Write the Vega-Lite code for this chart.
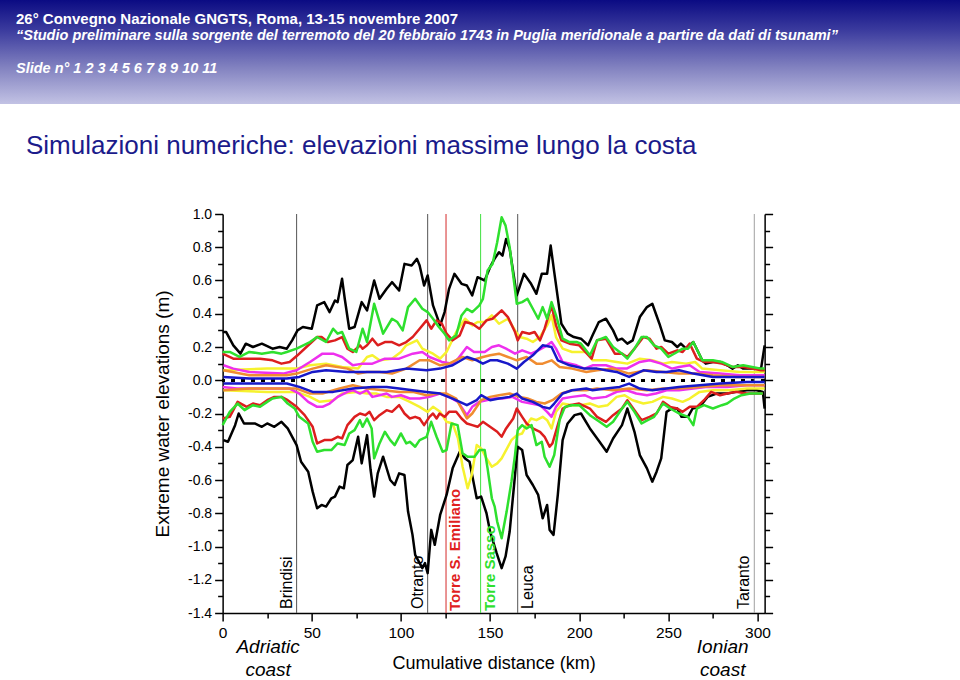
{
"$schema": "https://vega.github.io/schema/vega-lite/v6.json",
"padding": 0,
"background": "white",
"spacing": 103,
"center": true,
"title": {"text": "Simulazioni numeriche: elevazioni massime lungo la costa", "anchor": "start", "frame": "bounds", "offset": -159, "dx": 26, "fontSize": 26, "fontWeight": "normal", "color": "#1b1b8b", "font": "Liberation Sans", "zindex": 1},
"config": {
  "view": {"stroke": null},
  "font": "Liberation Sans",
  "axis": {"grid": false, "domainColor": "black", "tickColor": "black", "labelColor": "black", "titleColor": "black", "labelFont": "Liberation Sans", "titleFont": "Liberation Sans", "domainWidth": 1.5, "tickWidth": 1.5, "titleFontWeight": "normal"}
},
"datasets": {
"places": [
{"place": "Brindisi", "km": 41.5},
{"place": "Otranto", "km": 115},
{"place": "Torre S. Emiliano", "km": 125.3},
{"place": "Torre Sasso", "km": 144.7},
{"place": "Leuca", "km": 165.5},
{"place": "Taranto", "km": 298.2}
],
"coasts": [
{"coast": "Adriatic\ncoast", "km": 25.5},
{"coast": "Ionian\ncoast", "km": 280.5}
],
"lines": [
{"s":"A+","km":0,"m":0.29},{"s":"A+","km":2,"m":0.29},{"s":"A+","km":6,"m":0.21},{"s":"A+","km":10,"m":0.16},{"s":"A+","km":13,"m":0.22},{"s":"A+","km":17,"m":0.2},{"s":"A+","km":22,"m":0.22},{"s":"A+","km":28,"m":0.19},{"s":"A+","km":32,"m":0.2},{"s":"A+","km":36,"m":0.19},{"s":"A+","km":39,"m":0.24},{"s":"A+","km":42,"m":0.3},{"s":"A+","km":45,"m":0.32},{"s":"A+","km":50,"m":0.31},{"s":"A+","km":53,"m":0.45},{"s":"A+","km":57,"m":0.47},{"s":"A+","km":60,"m":0.41},{"s":"A+","km":63,"m":0.48},{"s":"A+","km":64.5,"m":0.47},{"s":"A+","km":67,"m":0.61},{"s":"A+","km":68.5,"m":0.49},{"s":"A+","km":71,"m":0.31},{"s":"A+","km":74,"m":0.32},{"s":"A+","km":78,"m":0.47},{"s":"A+","km":81,"m":0.42},{"s":"A+","km":85,"m":0.6},{"s":"A+","km":88,"m":0.49},{"s":"A+","km":92,"m":0.55},{"s":"A+","km":95,"m":0.59},{"s":"A+","km":99,"m":0.54},{"s":"A+","km":102,"m":0.7},{"s":"A+","km":106,"m":0.69},{"s":"A+","km":109,"m":0.73},{"s":"A+","km":110.5,"m":0.69},{"s":"A+","km":113,"m":0.57},{"s":"A+","km":115,"m":0.63},{"s":"A+","km":118,"m":0.45},{"s":"A+","km":122,"m":0.33},{"s":"A+","km":124.5,"m":0.41},{"s":"A+","km":127,"m":0.55},{"s":"A+","km":130,"m":0.64},{"s":"A+","km":134,"m":0.58},{"s":"A+","km":137,"m":0.57},{"s":"A+","km":140,"m":0.51},{"s":"A+","km":143,"m":0.62},{"s":"A+","km":147,"m":0.6},{"s":"A+","km":150,"m":0.68},{"s":"A+","km":152.5,"m":0.73},{"s":"A+","km":155,"m":0.77},{"s":"A+","km":157,"m":0.75},{"s":"A+","km":159,"m":0.85},{"s":"A+","km":161,"m":0.79},{"s":"A+","km":165,"m":0.51},{"s":"A+","km":169,"m":0.64},{"s":"A+","km":173,"m":0.58},{"s":"A+","km":176,"m":0.52},{"s":"A+","km":179,"m":0.64},{"s":"A+","km":182,"m":0.64},{"s":"A+","km":184,"m":0.81},{"s":"A+","km":186,"m":0.65},{"s":"A+","km":190,"m":0.34},{"s":"A+","km":193.5,"m":0.28},{"s":"A+","km":197,"m":0.26},{"s":"A+","km":201,"m":0.25},{"s":"A+","km":205,"m":0.21},{"s":"A+","km":207.5,"m":0.27},{"s":"A+","km":211,"m":0.35},{"s":"A+","km":215,"m":0.37},{"s":"A+","km":219,"m":0.3},{"s":"A+","km":221.5,"m":0.24},{"s":"A+","km":224,"m":0.25},{"s":"A+","km":227,"m":0.22},{"s":"A+","km":230,"m":0.24},{"s":"A+","km":234,"m":0.38},{"s":"A+","km":236,"m":0.41},{"s":"A+","km":238,"m":0.44},{"s":"A+","km":241,"m":0.46},{"s":"A+","km":245,"m":0.34},{"s":"A+","km":248,"m":0.24},{"s":"A+","km":252,"m":0.23},{"s":"A+","km":255,"m":0.2},{"s":"A+","km":257,"m":0.22},{"s":"A+","km":260,"m":0.19},{"s":"A+","km":264,"m":0.23},{"s":"A+","km":269,"m":0.12},{"s":"A+","km":271,"m":0.1},{"s":"A+","km":275,"m":0.11},{"s":"A+","km":279,"m":0.11},{"s":"A+","km":283,"m":0.09},{"s":"A+","km":286,"m":0.07},{"s":"A+","km":289,"m":0.09},{"s":"A+","km":292,"m":0.07},{"s":"A+","km":296,"m":0.07},{"s":"A+","km":300,"m":0.07},{"s":"A+","km":302,"m":0.07},{"s":"A+","km":304,"m":0.21},
{"s":"A-","km":0.5,"m":-0.36},{"s":"A-","km":3,"m":-0.37},{"s":"A-","km":7,"m":-0.27},{"s":"A-","km":9,"m":-0.2},{"s":"A-","km":12,"m":-0.26},{"s":"A-","km":18,"m":-0.26},{"s":"A-","km":22,"m":-0.28},{"s":"A-","km":25,"m":-0.26},{"s":"A-","km":29,"m":-0.28},{"s":"A-","km":33,"m":-0.25},{"s":"A-","km":36.5,"m":-0.29},{"s":"A-","km":41.5,"m":-0.39},{"s":"A-","km":44,"m":-0.49},{"s":"A-","km":48,"m":-0.55},{"s":"A-","km":50.5,"m":-0.67},{"s":"A-","km":53,"m":-0.77},{"s":"A-","km":55.5,"m":-0.75},{"s":"A-","km":58,"m":-0.76},{"s":"A-","km":61,"m":-0.71},{"s":"A-","km":63,"m":-0.7},{"s":"A-","km":65.6,"m":-0.64},{"s":"A-","km":68,"m":-0.65},{"s":"A-","km":70,"m":-0.51},{"s":"A-","km":73,"m":-0.48},{"s":"A-","km":76,"m":-0.34},{"s":"A-","km":78,"m":-0.5},{"s":"A-","km":81,"m":-0.33},{"s":"A-","km":83,"m":-0.54},{"s":"A-","km":85,"m":-0.7},{"s":"A-","km":87,"m":-0.56},{"s":"A-","km":90,"m":-0.46},{"s":"A-","km":94,"m":-0.6},{"s":"A-","km":96.5,"m":-0.63},{"s":"A-","km":99,"m":-0.56},{"s":"A-","km":102,"m":-0.57},{"s":"A-","km":104,"m":-0.79},{"s":"A-","km":106.5,"m":-0.93},{"s":"A-","km":108,"m":-1.05},{"s":"A-","km":110.5,"m":-1.1},{"s":"A-","km":112,"m":-1.13},{"s":"A-","km":113.5,"m":-1.1},{"s":"A-","km":115,"m":-1.16},{"s":"A-","km":117,"m":-0.9},{"s":"A-","km":119,"m":-0.99},{"s":"A-","km":122,"m":-0.81},{"s":"A-","km":125.6,"m":-0.69},{"s":"A-","km":129,"m":-0.53},{"s":"A-","km":133,"m":-0.43},{"s":"A-","km":136,"m":-0.47},{"s":"A-","km":138.5,"m":-0.49},{"s":"A-","km":142.5,"m":-0.71},{"s":"A-","km":145,"m":-0.7},{"s":"A-","km":148,"m":-0.8},{"s":"A-","km":150,"m":-0.91},{"s":"A-","km":153.7,"m":-1.04},{"s":"A-","km":156.5,"m":-1.13},{"s":"A-","km":158.7,"m":-1.06},{"s":"A-","km":161,"m":-0.91},{"s":"A-","km":164,"m":-0.57},{"s":"A-","km":165.5,"m":-0.4},{"s":"A-","km":168,"m":-0.42},{"s":"A-","km":170.5,"m":-0.57},{"s":"A-","km":174,"m":-0.63},{"s":"A-","km":177,"m":-0.69},{"s":"A-","km":179.5,"m":-0.83},{"s":"A-","km":182,"m":-0.75},{"s":"A-","km":183.4,"m":-0.9},{"s":"A-","km":185.6,"m":-0.93},{"s":"A-","km":188,"m":-0.69},{"s":"A-","km":190.7,"m":-0.36},{"s":"A-","km":193.5,"m":-0.26},{"s":"A-","km":197.4,"m":-0.21},{"s":"A-","km":201,"m":-0.2},{"s":"A-","km":206,"m":-0.29},{"s":"A-","km":211.4,"m":-0.37},{"s":"A-","km":215.4,"m":-0.43},{"s":"A-","km":219,"m":-0.35},{"s":"A-","km":224,"m":-0.27},{"s":"A-","km":227,"m":-0.17},{"s":"A-","km":231,"m":-0.31},{"s":"A-","km":234,"m":-0.45},{"s":"A-","km":238,"m":-0.53},{"s":"A-","km":241,"m":-0.61},{"s":"A-","km":243.4,"m":-0.55},{"s":"A-","km":246,"m":-0.47},{"s":"A-","km":249,"m":-0.19},{"s":"A-","km":252,"m":-0.17},{"s":"A-","km":255,"m":-0.17},{"s":"A-","km":257.4,"m":-0.22},{"s":"A-","km":261,"m":-0.22},{"s":"A-","km":263.6,"m":-0.17},{"s":"A-","km":267.5,"m":-0.16},{"s":"A-","km":272,"m":-0.1},{"s":"A-","km":277,"m":-0.08},{"s":"A-","km":283,"m":-0.08},{"s":"A-","km":288,"m":-0.07},{"s":"A-","km":294,"m":-0.06},{"s":"A-","km":299.5,"m":-0.06},{"s":"A-","km":303,"m":-0.07},{"s":"A-","km":304,"m":-0.17},
{"s":"B+","km":0.5,"m":0.06},{"s":"B+","km":25,"m":0.07},{"s":"B+","km":41.5,"m":0.07},{"s":"B+","km":49,"m":0.09},{"s":"B+","km":58,"m":0.1},{"s":"B+","km":67,"m":0.08},{"s":"B+","km":76,"m":0.07},{"s":"B+","km":81,"m":0.14},{"s":"B+","km":84,"m":0.15},{"s":"B+","km":88,"m":0.12},{"s":"B+","km":95,"m":0.13},{"s":"B+","km":100,"m":0.17},{"s":"B+","km":103,"m":0.21},{"s":"B+","km":109,"m":0.24},{"s":"B+","km":112,"m":0.19},{"s":"B+","km":118,"m":0.16},{"s":"B+","km":122,"m":0.13},{"s":"B+","km":125.6,"m":0.17},{"s":"B+","km":131,"m":0.29},{"s":"B+","km":136,"m":0.37},{"s":"B+","km":140,"m":0.33},{"s":"B+","km":143,"m":0.35},{"s":"B+","km":147,"m":0.35},{"s":"B+","km":151,"m":0.39},{"s":"B+","km":155,"m":0.34},{"s":"B+","km":160,"m":0.37},{"s":"B+","km":164,"m":0.3},{"s":"B+","km":166.6,"m":0.26},{"s":"B+","km":170.5,"m":0.25},{"s":"B+","km":174,"m":0.23},{"s":"B+","km":178,"m":0.26},{"s":"B+","km":182,"m":0.33},{"s":"B+","km":184.5,"m":0.39},{"s":"B+","km":187,"m":0.26},{"s":"B+","km":190.7,"m":0.19},{"s":"B+","km":196,"m":0.17},{"s":"B+","km":204,"m":0.17},{"s":"B+","km":207.5,"m":0.12},{"s":"B+","km":215,"m":0.12},{"s":"B+","km":221,"m":0.11},{"s":"B+","km":227,"m":0.1},{"s":"B+","km":234,"m":0.13},{"s":"B+","km":241,"m":0.12},{"s":"B+","km":247,"m":0.1},{"s":"B+","km":252,"m":0.11},{"s":"B+","km":260,"m":0.1},{"s":"B+","km":265,"m":0.11},{"s":"B+","km":269,"m":0.07},{"s":"B+","km":279,"m":0.06},{"s":"B+","km":290,"m":0.05},{"s":"B+","km":301,"m":0.05},{"s":"B+","km":304,"m":0.05},
{"s":"B-","km":0.5,"m":-0.06},{"s":"B-","km":25,"m":-0.07},{"s":"B-","km":41.5,"m":-0.07},{"s":"B-","km":49,"m":-0.1},{"s":"B-","km":54.5,"m":-0.13},{"s":"B-","km":62,"m":-0.12},{"s":"B-","km":67,"m":-0.08},{"s":"B-","km":75,"m":-0.07},{"s":"B-","km":81,"m":-0.08},{"s":"B-","km":86,"m":-0.08},{"s":"B-","km":92,"m":-0.1},{"s":"B-","km":99,"m":-0.1},{"s":"B-","km":105,"m":-0.13},{"s":"B-","km":110.5,"m":-0.16},{"s":"B-","km":115,"m":-0.19},{"s":"B-","km":118,"m":-0.16},{"s":"B-","km":122,"m":-0.19},{"s":"B-","km":125.6,"m":-0.25},{"s":"B-","km":129,"m":-0.26},{"s":"B-","km":132,"m":-0.35},{"s":"B-","km":134.6,"m":-0.52},{"s":"B-","km":137.4,"m":-0.65},{"s":"B-","km":139.7,"m":-0.57},{"s":"B-","km":142.5,"m":-0.39},{"s":"B-","km":145,"m":-0.41},{"s":"B-","km":148,"m":-0.47},{"s":"B-","km":151,"m":-0.52},{"s":"B-","km":154,"m":-0.5},{"s":"B-","km":156.5,"m":-0.47},{"s":"B-","km":159,"m":-0.42},{"s":"B-","km":162,"m":-0.36},{"s":"B-","km":165,"m":-0.33},{"s":"B-","km":168,"m":-0.32},{"s":"B-","km":170.5,"m":-0.27},{"s":"B-","km":173,"m":-0.23},{"s":"B-","km":176,"m":-0.24},{"s":"B-","km":179.5,"m":-0.22},{"s":"B-","km":182,"m":-0.24},{"s":"B-","km":184.5,"m":-0.29},{"s":"B-","km":187,"m":-0.19},{"s":"B-","km":190.7,"m":-0.14},{"s":"B-","km":196,"m":-0.15},{"s":"B-","km":201,"m":-0.15},{"s":"B-","km":206,"m":-0.14},{"s":"B-","km":211,"m":-0.16},{"s":"B-","km":216,"m":-0.15},{"s":"B-","km":221,"m":-0.1},{"s":"B-","km":225.5,"m":-0.09},{"s":"B-","km":230,"m":-0.12},{"s":"B-","km":236,"m":-0.14},{"s":"B-","km":241,"m":-0.13},{"s":"B-","km":247,"m":-0.1},{"s":"B-","km":252,"m":-0.11},{"s":"B-","km":258,"m":-0.13},{"s":"B-","km":262,"m":-0.11},{"s":"B-","km":267.5,"m":-0.07},{"s":"B-","km":275,"m":-0.06},{"s":"B-","km":284,"m":-0.06},{"s":"B-","km":294,"m":-0.05},{"s":"B-","km":304,"m":-0.05},
{"s":"C+","km":0.5,"m":0.09},{"s":"C+","km":6,"m":0.07},{"s":"C+","km":15,"m":0.05},{"s":"C+","km":34,"m":0.04},{"s":"C+","km":41.5,"m":0.06},{"s":"C+","km":49,"m":0.11},{"s":"C+","km":56,"m":0.16},{"s":"C+","km":62,"m":0.16},{"s":"C+","km":67,"m":0.14},{"s":"C+","km":73,"m":0.09},{"s":"C+","km":78.5,"m":0.1},{"s":"C+","km":84,"m":0.1},{"s":"C+","km":91,"m":0.13},{"s":"C+","km":99,"m":0.13},{"s":"C+","km":106.6,"m":0.16},{"s":"C+","km":112,"m":0.17},{"s":"C+","km":116,"m":0.14},{"s":"C+","km":123,"m":0.11},{"s":"C+","km":129,"m":0.1},{"s":"C+","km":132,"m":0.13},{"s":"C+","km":137,"m":0.2},{"s":"C+","km":141,"m":0.17},{"s":"C+","km":147,"m":0.17},{"s":"C+","km":151,"m":0.2},{"s":"C+","km":155,"m":0.21},{"s":"C+","km":159,"m":0.19},{"s":"C+","km":164,"m":0.16},{"s":"C+","km":168,"m":0.18},{"s":"C+","km":173,"m":0.16},{"s":"C+","km":177,"m":0.18},{"s":"C+","km":182,"m":0.21},{"s":"C+","km":184.5,"m":0.23},{"s":"C+","km":187,"m":0.19},{"s":"C+","km":190.7,"m":0.11},{"s":"C+","km":198.5,"m":0.09},{"s":"C+","km":203,"m":0.07},{"s":"C+","km":207.5,"m":0.09},{"s":"C+","km":215,"m":0.09},{"s":"C+","km":221,"m":0.07},{"s":"C+","km":226.6,"m":0.07},{"s":"C+","km":234,"m":0.11},{"s":"C+","km":239.5,"m":0.12},{"s":"C+","km":246,"m":0.1},{"s":"C+","km":252,"m":0.07},{"s":"C+","km":256,"m":0.08},{"s":"C+","km":262,"m":0.09},{"s":"C+","km":267.5,"m":0.05},{"s":"C+","km":279,"m":0.04},{"s":"C+","km":290,"m":0.03},{"s":"C+","km":304,"m":0.03},
{"s":"C-","km":0,"m":-0.04},{"s":"C-","km":8,"m":-0.05},{"s":"C-","km":17,"m":-0.05},{"s":"C-","km":28,"m":-0.05},{"s":"C-","km":37.6,"m":-0.05},{"s":"C-","km":43,"m":-0.08},{"s":"C-","km":48,"m":-0.13},{"s":"C-","km":53,"m":-0.16},{"s":"C-","km":56,"m":-0.16},{"s":"C-","km":60,"m":-0.14},{"s":"C-","km":64.5,"m":-0.1},{"s":"C-","km":70,"m":-0.07},{"s":"C-","km":73,"m":-0.06},{"s":"C-","km":77,"m":-0.08},{"s":"C-","km":81,"m":-0.06},{"s":"C-","km":84,"m":-0.1},{"s":"C-","km":88,"m":-0.09},{"s":"C-","km":92,"m":-0.08},{"s":"C-","km":95,"m":-0.1},{"s":"C-","km":100,"m":-0.09},{"s":"C-","km":105,"m":-0.11},{"s":"C-","km":110.5,"m":-0.11},{"s":"C-","km":116,"m":-0.1},{"s":"C-","km":122,"m":-0.08},{"s":"C-","km":127,"m":-0.1},{"s":"C-","km":132,"m":-0.13},{"s":"C-","km":137,"m":-0.21},{"s":"C-","km":140,"m":-0.16},{"s":"C-","km":144,"m":-0.13},{"s":"C-","km":148,"m":-0.12},{"s":"C-","km":152.6,"m":-0.11},{"s":"C-","km":157,"m":-0.11},{"s":"C-","km":162.6,"m":-0.1},{"s":"C-","km":168,"m":-0.13},{"s":"C-","km":173,"m":-0.14},{"s":"C-","km":178,"m":-0.15},{"s":"C-","km":182,"m":-0.19},{"s":"C-","km":184.5,"m":-0.22},{"s":"C-","km":187,"m":-0.16},{"s":"C-","km":190.7,"m":-0.11},{"s":"C-","km":196,"m":-0.1},{"s":"C-","km":203,"m":-0.09},{"s":"C-","km":207.5,"m":-0.11},{"s":"C-","km":215,"m":-0.1},{"s":"C-","km":221,"m":-0.07},{"s":"C-","km":226.6,"m":-0.06},{"s":"C-","km":232,"m":-0.08},{"s":"C-","km":238,"m":-0.09},{"s":"C-","km":243,"m":-0.08},{"s":"C-","km":249,"m":-0.06},{"s":"C-","km":256,"m":-0.06},{"s":"C-","km":264,"m":-0.05},{"s":"C-","km":271,"m":-0.04},{"s":"C-","km":283,"m":-0.04},{"s":"C-","km":294,"m":-0.03},{"s":"C-","km":304,"m":-0.03},
{"s":"D+","km":0.5,"m":0.06},{"s":"D+","km":15,"m":0.03},{"s":"D+","km":36,"m":0.03},{"s":"D+","km":41.5,"m":0.04},{"s":"D+","km":50.5,"m":0.07},{"s":"D+","km":58,"m":0.09},{"s":"D+","km":70,"m":0.07},{"s":"D+","km":76,"m":0.04},{"s":"D+","km":81,"m":0.05},{"s":"D+","km":88,"m":0.05},{"s":"D+","km":95,"m":0.04},{"s":"D+","km":103,"m":0.07},{"s":"D+","km":110.5,"m":0.12},{"s":"D+","km":116,"m":0.12},{"s":"D+","km":122,"m":0.09},{"s":"D+","km":127,"m":0.1},{"s":"D+","km":134.6,"m":0.14},{"s":"D+","km":140,"m":0.12},{"s":"D+","km":146,"m":0.14},{"s":"D+","km":150,"m":0.15},{"s":"D+","km":155,"m":0.16},{"s":"D+","km":160,"m":0.14},{"s":"D+","km":165,"m":0.12},{"s":"D+","km":170.5,"m":0.14},{"s":"D+","km":176,"m":0.1},{"s":"D+","km":179.5,"m":0.1},{"s":"D+","km":184.5,"m":0.12},{"s":"D+","km":189,"m":0.08},{"s":"D+","km":196,"m":0.07},{"s":"D+","km":204,"m":0.05},{"s":"D+","km":210,"m":0.06},{"s":"D+","km":219,"m":0.07},{"s":"D+","km":228,"m":0.04},{"s":"D+","km":238,"m":0.06},{"s":"D+","km":247,"m":0.05},{"s":"D+","km":256,"m":0.04},{"s":"D+","km":266,"m":0.04},{"s":"D+","km":275,"m":0.03},{"s":"D+","km":288,"m":0.02},{"s":"D+","km":304,"m":0.02},
{"s":"D-","km":0.5,"m":-0.06},{"s":"D-","km":15,"m":-0.05},{"s":"D-","km":41.5,"m":-0.05},{"s":"D-","km":49,"m":-0.08},{"s":"D-","km":56,"m":-0.08},{"s":"D-","km":65.6,"m":-0.05},{"s":"D-","km":73,"m":-0.03},{"s":"D-","km":81,"m":-0.05},{"s":"D-","km":90,"m":-0.06},{"s":"D-","km":99,"m":-0.07},{"s":"D-","km":106.6,"m":-0.07},{"s":"D-","km":114.4,"m":-0.09},{"s":"D-","km":120,"m":-0.08},{"s":"D-","km":125.6,"m":-0.08},{"s":"D-","km":131,"m":-0.11},{"s":"D-","km":137,"m":-0.23},{"s":"D-","km":140,"m":-0.2},{"s":"D-","km":145,"m":-0.12},{"s":"D-","km":150,"m":-0.1},{"s":"D-","km":155,"m":-0.09},{"s":"D-","km":161,"m":-0.08},{"s":"D-","km":166.6,"m":-0.1},{"s":"D-","km":171,"m":-0.11},{"s":"D-","km":176,"m":-0.13},{"s":"D-","km":180.6,"m":-0.14},{"s":"D-","km":185,"m":-0.12},{"s":"D-","km":190,"m":-0.08},{"s":"D-","km":196,"m":-0.06},{"s":"D-","km":204,"m":-0.06},{"s":"D-","km":210,"m":-0.05},{"s":"D-","km":219,"m":-0.06},{"s":"D-","km":228,"m":-0.05},{"s":"D-","km":238,"m":-0.06},{"s":"D-","km":247,"m":-0.05},{"s":"D-","km":256,"m":-0.05},{"s":"D-","km":267.5,"m":-0.04},{"s":"D-","km":279,"m":-0.03},{"s":"D-","km":294,"m":-0.03},{"s":"D-","km":304,"m":-0.03},
{"s":"E+","km":0,"m":0.16},{"s":"E+","km":6,"m":0.13},{"s":"E+","km":13,"m":0.13},{"s":"E+","km":21,"m":0.13},{"s":"E+","km":28,"m":0.12},{"s":"E+","km":33,"m":0.1},{"s":"E+","km":37.6,"m":0.11},{"s":"E+","km":42,"m":0.15},{"s":"E+","km":47,"m":0.2},{"s":"E+","km":53,"m":0.26},{"s":"E+","km":55.5,"m":0.26},{"s":"E+","km":59,"m":0.23},{"s":"E+","km":63,"m":0.24},{"s":"E+","km":67,"m":0.26},{"s":"E+","km":70,"m":0.19},{"s":"E+","km":73,"m":0.17},{"s":"E+","km":77,"m":0.21},{"s":"E+","km":78.5,"m":0.19},{"s":"E+","km":81,"m":0.21},{"s":"E+","km":84,"m":0.25},{"s":"E+","km":87,"m":0.21},{"s":"E+","km":91,"m":0.23},{"s":"E+","km":95,"m":0.23},{"s":"E+","km":99,"m":0.21},{"s":"E+","km":103,"m":0.23},{"s":"E+","km":106.6,"m":0.26},{"s":"E+","km":110.5,"m":0.31},{"s":"E+","km":114.4,"m":0.36},{"s":"E+","km":117,"m":0.31},{"s":"E+","km":120,"m":0.36},{"s":"E+","km":123,"m":0.34},{"s":"E+","km":125.6,"m":0.28},{"s":"E+","km":129,"m":0.24},{"s":"E+","km":133,"m":0.27},{"s":"E+","km":136,"m":0.35},{"s":"E+","km":140,"m":0.34},{"s":"E+","km":144,"m":0.31},{"s":"E+","km":148,"m":0.36},{"s":"E+","km":151.4,"m":0.37},{"s":"E+","km":156.5,"m":0.42},{"s":"E+","km":160,"m":0.38},{"s":"E+","km":164,"m":0.29},{"s":"E+","km":165.5,"m":0.24},{"s":"E+","km":168,"m":0.29},{"s":"E+","km":172,"m":0.28},{"s":"E+","km":175,"m":0.29},{"s":"E+","km":178,"m":0.24},{"s":"E+","km":180.6,"m":0.31},{"s":"E+","km":184.5,"m":0.45},{"s":"E+","km":187,"m":0.33},{"s":"E+","km":190,"m":0.24},{"s":"E+","km":194.6,"m":0.22},{"s":"E+","km":200,"m":0.21},{"s":"E+","km":207,"m":0.13},{"s":"E+","km":210,"m":0.24},{"s":"E+","km":215,"m":0.25},{"s":"E+","km":220,"m":0.16},{"s":"E+","km":224,"m":0.16},{"s":"E+","km":227,"m":0.14},{"s":"E+","km":231,"m":0.19},{"s":"E+","km":236,"m":0.26},{"s":"E+","km":239.5,"m":0.25},{"s":"E+","km":243.4,"m":0.19},{"s":"E+","km":246,"m":0.2},{"s":"E+","km":250,"m":0.16},{"s":"E+","km":255,"m":0.18},{"s":"E+","km":258,"m":0.17},{"s":"E+","km":262,"m":0.22},{"s":"E+","km":266,"m":0.13},{"s":"E+","km":270,"m":0.11},{"s":"E+","km":275,"m":0.11},{"s":"E+","km":280,"m":0.1},{"s":"E+","km":286,"m":0.08},{"s":"E+","km":292,"m":0.08},{"s":"E+","km":297,"m":0.07},{"s":"E+","km":302,"m":0.06},{"s":"E+","km":304,"m":0.06},
{"s":"E-","km":0,"m":-0.23},{"s":"E-","km":4,"m":-0.22},{"s":"E-","km":8.4,"m":-0.13},{"s":"E-","km":13.5,"m":-0.16},{"s":"E-","km":17,"m":-0.14},{"s":"E-","km":21,"m":-0.15},{"s":"E-","km":25,"m":-0.12},{"s":"E-","km":29,"m":-0.1},{"s":"E-","km":33,"m":-0.1},{"s":"E-","km":36.5,"m":-0.12},{"s":"E-","km":41.5,"m":-0.16},{"s":"E-","km":46,"m":-0.21},{"s":"E-","km":50.5,"m":-0.28},{"s":"E-","km":53,"m":-0.38},{"s":"E-","km":57,"m":-0.36},{"s":"E-","km":61,"m":-0.36},{"s":"E-","km":64.5,"m":-0.34},{"s":"E-","km":67,"m":-0.35},{"s":"E-","km":70,"m":-0.27},{"s":"E-","km":74,"m":-0.22},{"s":"E-","km":77,"m":-0.2},{"s":"E-","km":80,"m":-0.21},{"s":"E-","km":82.4,"m":-0.19},{"s":"E-","km":85,"m":-0.24},{"s":"E-","km":88,"m":-0.21},{"s":"E-","km":92,"m":-0.18},{"s":"E-","km":95,"m":-0.19},{"s":"E-","km":99,"m":-0.15},{"s":"E-","km":102,"m":-0.2},{"s":"E-","km":105,"m":-0.23},{"s":"E-","km":108,"m":-0.22},{"s":"E-","km":110.5,"m":-0.23},{"s":"E-","km":113,"m":-0.27},{"s":"E-","km":116,"m":-0.22},{"s":"E-","km":118,"m":-0.2},{"s":"E-","km":120,"m":-0.23},{"s":"E-","km":121.7,"m":-0.2},{"s":"E-","km":124.5,"m":-0.22},{"s":"E-","km":127,"m":-0.19},{"s":"E-","km":131,"m":-0.19},{"s":"E-","km":134,"m":-0.23},{"s":"E-","km":137,"m":-0.26},{"s":"E-","km":140,"m":-0.27},{"s":"E-","km":143,"m":-0.28},{"s":"E-","km":146,"m":-0.25},{"s":"E-","km":150,"m":-0.28},{"s":"E-","km":154,"m":-0.31},{"s":"E-","km":156.5,"m":-0.34},{"s":"E-","km":159,"m":-0.29},{"s":"E-","km":163,"m":-0.23},{"s":"E-","km":165,"m":-0.17},{"s":"E-","km":168,"m":-0.22},{"s":"E-","km":170.5,"m":-0.26},{"s":"E-","km":174,"m":-0.29},{"s":"E-","km":178,"m":-0.31},{"s":"E-","km":180.6,"m":-0.34},{"s":"E-","km":183.4,"m":-0.4},{"s":"E-","km":185,"m":-0.38},{"s":"E-","km":188,"m":-0.27},{"s":"E-","km":190.7,"m":-0.17},{"s":"E-","km":194.6,"m":-0.15},{"s":"E-","km":200,"m":-0.14},{"s":"E-","km":206,"m":-0.17},{"s":"E-","km":210,"m":-0.22},{"s":"E-","km":215,"m":-0.25},{"s":"E-","km":219,"m":-0.21},{"s":"E-","km":224,"m":-0.17},{"s":"E-","km":227,"m":-0.12},{"s":"E-","km":231,"m":-0.18},{"s":"E-","km":235,"m":-0.24},{"s":"E-","km":239.5,"m":-0.22},{"s":"E-","km":243.4,"m":-0.2},{"s":"E-","km":247,"m":-0.13},{"s":"E-","km":251,"m":-0.16},{"s":"E-","km":255,"m":-0.17},{"s":"E-","km":258,"m":-0.19},{"s":"E-","km":262,"m":-0.16},{"s":"E-","km":266,"m":-0.16},{"s":"E-","km":270,"m":-0.12},{"s":"E-","km":274,"m":-0.07},{"s":"E-","km":279,"m":-0.09},{"s":"E-","km":283,"m":-0.08},{"s":"E-","km":288,"m":-0.07},{"s":"E-","km":294,"m":-0.08},{"s":"E-","km":299.5,"m":-0.08},{"s":"E-","km":303,"m":-0.08},
{"s":"F+","km":0,"m":0.17},{"s":"F+","km":4,"m":0.17},{"s":"F+","km":9.5,"m":0.14},{"s":"F+","km":15,"m":0.17},{"s":"F+","km":22,"m":0.16},{"s":"F+","km":28,"m":0.17},{"s":"F+","km":33,"m":0.16},{"s":"F+","km":36,"m":0.17},{"s":"F+","km":41.5,"m":0.19},{"s":"F+","km":49,"m":0.23},{"s":"F+","km":53,"m":0.26},{"s":"F+","km":58,"m":0.23},{"s":"F+","km":62,"m":0.31},{"s":"F+","km":64.5,"m":0.28},{"s":"F+","km":67,"m":0.29},{"s":"F+","km":71,"m":0.19},{"s":"F+","km":75,"m":0.17},{"s":"F+","km":78.5,"m":0.31},{"s":"F+","km":81,"m":0.23},{"s":"F+","km":85,"m":0.46},{"s":"F+","km":90,"m":0.28},{"s":"F+","km":95,"m":0.37},{"s":"F+","km":98,"m":0.35},{"s":"F+","km":101,"m":0.3},{"s":"F+","km":104,"m":0.44},{"s":"F+","km":108,"m":0.49},{"s":"F+","km":112,"m":0.43},{"s":"F+","km":115,"m":0.41},{"s":"F+","km":118,"m":0.37},{"s":"F+","km":120.6,"m":0.33},{"s":"F+","km":124.5,"m":0.28},{"s":"F+","km":127,"m":0.24},{"s":"F+","km":131,"m":0.27},{"s":"F+","km":134,"m":0.39},{"s":"F+","km":137,"m":0.43},{"s":"F+","km":140,"m":0.41},{"s":"F+","km":144,"m":0.45},{"s":"F+","km":146,"m":0.49},{"s":"F+","km":148.6,"m":0.66},{"s":"F+","km":151.4,"m":0.7},{"s":"F+","km":154,"m":0.83},{"s":"F+","km":156.5,"m":0.98},{"s":"F+","km":158.7,"m":0.93},{"s":"F+","km":161,"m":0.8},{"s":"F+","km":165,"m":0.46},{"s":"F+","km":168,"m":0.47},{"s":"F+","km":171,"m":0.49},{"s":"F+","km":174,"m":0.43},{"s":"F+","km":177,"m":0.37},{"s":"F+","km":179.5,"m":0.44},{"s":"F+","km":182,"m":0.37},{"s":"F+","km":184.5,"m":0.47},{"s":"F+","km":187,"m":0.39},{"s":"F+","km":190.7,"m":0.25},{"s":"F+","km":194.6,"m":0.23},{"s":"F+","km":198.5,"m":0.23},{"s":"F+","km":201,"m":0.22},{"s":"F+","km":206,"m":0.15},{"s":"F+","km":210,"m":0.24},{"s":"F+","km":215,"m":0.26},{"s":"F+","km":219,"m":0.2},{"s":"F+","km":224,"m":0.16},{"s":"F+","km":227,"m":0.13},{"s":"F+","km":231,"m":0.19},{"s":"F+","km":235,"m":0.26},{"s":"F+","km":238,"m":0.26},{"s":"F+","km":242,"m":0.21},{"s":"F+","km":246,"m":0.19},{"s":"F+","km":250,"m":0.14},{"s":"F+","km":255,"m":0.17},{"s":"F+","km":258,"m":0.19},{"s":"F+","km":261,"m":0.19},{"s":"F+","km":264,"m":0.23},{"s":"F+","km":269,"m":0.12},{"s":"F+","km":275,"m":0.12},{"s":"F+","km":280,"m":0.11},{"s":"F+","km":286,"m":0.08},{"s":"F+","km":292,"m":0.09},{"s":"F+","km":297,"m":0.08},{"s":"F+","km":302,"m":0.07},{"s":"F+","km":304,"m":0.07},
{"s":"F-","km":0,"m":-0.27},{"s":"F-","km":4,"m":-0.19},{"s":"F-","km":8.4,"m":-0.14},{"s":"F-","km":12.3,"m":-0.18},{"s":"F-","km":17,"m":-0.15},{"s":"F-","km":21,"m":-0.16},{"s":"F-","km":25,"m":-0.13},{"s":"F-","km":28,"m":-0.11},{"s":"F-","km":33,"m":-0.1},{"s":"F-","km":36.5,"m":-0.14},{"s":"F-","km":40.4,"m":-0.17},{"s":"F-","km":43,"m":-0.22},{"s":"F-","km":48,"m":-0.26},{"s":"F-","km":50.5,"m":-0.37},{"s":"F-","km":53,"m":-0.43},{"s":"F-","km":57,"m":-0.42},{"s":"F-","km":61,"m":-0.42},{"s":"F-","km":64.5,"m":-0.38},{"s":"F-","km":68.4,"m":-0.39},{"s":"F-","km":71,"m":-0.32},{"s":"F-","km":74,"m":-0.3},{"s":"F-","km":77,"m":-0.24},{"s":"F-","km":78.5,"m":-0.28},{"s":"F-","km":81,"m":-0.23},{"s":"F-","km":83.6,"m":-0.29},{"s":"F-","km":85,"m":-0.47},{"s":"F-","km":88,"m":-0.38},{"s":"F-","km":91,"m":-0.31},{"s":"F-","km":94,"m":-0.36},{"s":"F-","km":96.5,"m":-0.39},{"s":"F-","km":100,"m":-0.32},{"s":"F-","km":103,"m":-0.38},{"s":"F-","km":105,"m":-0.37},{"s":"F-","km":108,"m":-0.4},{"s":"F-","km":110.5,"m":-0.36},{"s":"F-","km":114.4,"m":-0.34},{"s":"F-","km":117,"m":-0.25},{"s":"F-","km":120,"m":-0.34},{"s":"F-","km":123.4,"m":-0.43},{"s":"F-","km":125.6,"m":-0.42},{"s":"F-","km":128.4,"m":-0.26},{"s":"F-","km":131.8,"m":-0.27},{"s":"F-","km":134.6,"m":-0.44},{"s":"F-","km":137.4,"m":-0.46},{"s":"F-","km":141.3,"m":-0.46},{"s":"F-","km":144,"m":-0.42},{"s":"F-","km":147,"m":-0.42},{"s":"F-","km":148.6,"m":-0.53},{"s":"F-","km":151,"m":-0.71},{"s":"F-","km":152.6,"m":-0.76},{"s":"F-","km":154,"m":-0.85},{"s":"F-","km":156.5,"m":-0.95},{"s":"F-","km":159.3,"m":-0.79},{"s":"F-","km":162,"m":-0.61},{"s":"F-","km":164,"m":-0.45},{"s":"F-","km":165.5,"m":-0.3},{"s":"F-","km":168,"m":-0.27},{"s":"F-","km":170.5,"m":-0.29},{"s":"F-","km":173.3,"m":-0.27},{"s":"F-","km":176,"m":-0.39},{"s":"F-","km":179,"m":-0.37},{"s":"F-","km":180.6,"m":-0.46},{"s":"F-","km":183.4,"m":-0.52},{"s":"F-","km":186,"m":-0.45},{"s":"F-","km":189,"m":-0.24},{"s":"F-","km":192,"m":-0.16},{"s":"F-","km":196,"m":-0.15},{"s":"F-","km":200,"m":-0.15},{"s":"F-","km":206,"m":-0.21},{"s":"F-","km":211.4,"m":-0.25},{"s":"F-","km":215.4,"m":-0.28},{"s":"F-","km":219,"m":-0.25},{"s":"F-","km":224,"m":-0.17},{"s":"F-","km":227,"m":-0.13},{"s":"F-","km":231,"m":-0.19},{"s":"F-","km":235,"m":-0.26},{"s":"F-","km":238.4,"m":-0.24},{"s":"F-","km":242,"m":-0.22},{"s":"F-","km":247,"m":-0.14},{"s":"F-","km":251,"m":-0.17},{"s":"F-","km":256,"m":-0.2},{"s":"F-","km":261,"m":-0.22},{"s":"F-","km":264,"m":-0.27},{"s":"F-","km":266,"m":-0.17},{"s":"F-","km":270,"m":-0.15},{"s":"F-","km":275,"m":-0.17},{"s":"F-","km":280,"m":-0.15},{"s":"F-","km":283,"m":-0.14},{"s":"F-","km":287,"m":-0.11},{"s":"F-","km":291,"m":-0.09},{"s":"F-","km":296,"m":-0.08},{"s":"F-","km":300,"m":-0.08},{"s":"F-","km":303,"m":-0.08},
{"s":"G+","km":0.5,"m":0.02},{"s":"G+","km":15,"m":0.01},{"s":"G+","km":36,"m":0.01},{"s":"G+","km":43,"m":0.02},{"s":"G+","km":50.5,"m":0.05},{"s":"G+","km":58,"m":0.06},{"s":"G+","km":70,"m":0.05},{"s":"G+","km":81,"m":0.05},{"s":"G+","km":92,"m":0.05},{"s":"G+","km":103,"m":0.07},{"s":"G+","km":114.4,"m":0.06},{"s":"G+","km":122,"m":0.07},{"s":"G+","km":129,"m":0.09},{"s":"G+","km":137,"m":0.14},{"s":"G+","km":142.5,"m":0.12},{"s":"G+","km":146,"m":0.1},{"s":"G+","km":150,"m":0.12},{"s":"G+","km":154,"m":0.12},{"s":"G+","km":160,"m":0.1},{"s":"G+","km":165,"m":0.07},{"s":"G+","km":169,"m":0.11},{"s":"G+","km":174,"m":0.15},{"s":"G+","km":179.5,"m":0.21},{"s":"G+","km":184.5,"m":0.2},{"s":"G+","km":188,"m":0.12},{"s":"G+","km":194.6,"m":0.09},{"s":"G+","km":203,"m":0.07},{"s":"G+","km":210,"m":0.07},{"s":"G+","km":215,"m":0.06},{"s":"G+","km":221,"m":0.05},{"s":"G+","km":228,"m":0.02},{"s":"G+","km":236,"m":0.06},{"s":"G+","km":243.4,"m":0.05},{"s":"G+","km":249,"m":0.05},{"s":"G+","km":256,"m":0.06},{"s":"G+","km":264,"m":0.04},{"s":"G+","km":275,"m":0.02},{"s":"G+","km":288,"m":0.02},{"s":"G+","km":304,"m":0.02},
{"s":"G-","km":0.5,"m":-0.02},{"s":"G-","km":15,"m":-0.02},{"s":"G-","km":36,"m":-0.02},{"s":"G-","km":43,"m":-0.04},{"s":"G-","km":50.5,"m":-0.07},{"s":"G-","km":62,"m":-0.07},{"s":"G-","km":73,"m":-0.05},{"s":"G-","km":84,"m":-0.04},{"s":"G-","km":92,"m":-0.04},{"s":"G-","km":99,"m":-0.05},{"s":"G-","km":106.6,"m":-0.06},{"s":"G-","km":114.4,"m":-0.07},{"s":"G-","km":122,"m":-0.08},{"s":"G-","km":129,"m":-0.11},{"s":"G-","km":133,"m":-0.13},{"s":"G-","km":137,"m":-0.15},{"s":"G-","km":142.5,"m":-0.12},{"s":"G-","km":145,"m":-0.09},{"s":"G-","km":150,"m":-0.12},{"s":"G-","km":155,"m":-0.11},{"s":"G-","km":161,"m":-0.1},{"s":"G-","km":165,"m":-0.08},{"s":"G-","km":168,"m":-0.11},{"s":"G-","km":174,"m":-0.13},{"s":"G-","km":179.5,"m":-0.16},{"s":"G-","km":183.4,"m":-0.17},{"s":"G-","km":186,"m":-0.14},{"s":"G-","km":190.7,"m":-0.08},{"s":"G-","km":196,"m":-0.06},{"s":"G-","km":204,"m":-0.05},{"s":"G-","km":207.5,"m":-0.06},{"s":"G-","km":215,"m":-0.05},{"s":"G-","km":222.7,"m":-0.04},{"s":"G-","km":228,"m":-0.02},{"s":"G-","km":234,"m":-0.05},{"s":"G-","km":241,"m":-0.06},{"s":"G-","km":249,"m":-0.05},{"s":"G-","km":256,"m":-0.04},{"s":"G-","km":267.5,"m":-0.03},{"s":"G-","km":279,"m":-0.02},{"s":"G-","km":294,"m":-0.01},{"s":"G-","km":304,"m":-0.01}
]
},
"vconcat": [
{
  "width": 996,
  "height": 104,
  "data": {"values": [{"banner": "header"}]},
  "mark": {"type": "rect", "color": {"gradient": "linear", "x1": 0, "y1": 0, "x2": 0, "y2": 1, "stops": [{"offset": 0, "color": "#0b0b83"}, {"offset": 0.3, "color": "#3d3d9f"}, {"offset": 0.65, "color": "#8282c0"}, {"offset": 1, "color": "#c2c2e4"}]}},
  "title": {
    "text": "26° Convegno Nazionale GNGTS, Roma, 13-15 novembre 2007",
    "subtitle": ["“Studio preliminare sulla sorgente del terremoto del 20 febbraio 1743 in Puglia meridionale a partire da dati di tsunami”", "Slide n°  1 2 3 4 5 6 7 8 9 10 11"],
    "anchor": "start", "frame": "group", "orient": "top", "offset": -75, "dx": 16,
    "color": "white", "font": "Liberation Sans", "fontSize": 15, "fontWeight": "bold",
    "subtitleColor": "white", "subtitleFont": "Liberation Sans", "subtitleFontSize": 14.5, "subtitleFontStyle": "italic", "subtitleFontWeight": "bold", "subtitleLineHeight": 33, "subtitlePadding": 2,
    "zindex": 1
  }
},
{
  "width": 542,
  "height": 399,
  "data": {"name": "lines"},
  "layer": [
    {
      "mark": {"type": "rule", "strokeDash": [3, 7], "strokeWidth": 2.5, "color": "black"},
      "encoding": {
        "y": {"datum": 0, "type": "quantitative", "scale": {"domain": [-1.4, 1.0], "nice": false, "zero": false},
          "axis": {"orient": "right", "values": [-1.4,-1.3,-1.2,-1.1,-1.0,-0.9,-0.8,-0.7,-0.6,-0.5,-0.4,-0.3,-0.2,-0.1,0,0.1,0.2,0.3,0.4,0.5,0.6,0.7,0.8,0.9,1.0], "labels": false, "title": null, "tickSize": {"condition": {"test": "abs(round(datum.value*10)) % 2 === 0", "value": 8}, "value": 5}}}
      }
    },
    {
      "data": {"name": "places"},
      "mark": {"type": "rule"},
      "encoding": {
        "x": {"field": "km", "type": "quantitative", "scale": {"domain": [0, 304], "nice": false}},
        "color": {"field": "place", "type": "nominal", "scale": {"domain": ["Brindisi", "Otranto", "Torre S. Emiliano", "Torre Sasso", "Leuca", "Taranto"], "range": ["#555555", "#555555", "#d42a2a", "#3fe03f", "#555555", "#a0a0a0"]}, "legend": null},
        "size": {"field": "place", "type": "nominal", "scale": {"domain": ["Brindisi", "Otranto", "Torre S. Emiliano", "Torre Sasso", "Leuca", "Taranto"], "range": [1, 1, 1.5, 1.5, 1, 2.5]}, "legend": null}
      }
    },
    {
      "mark": {"type": "line", "strokeWidth": 2.5, "strokeJoin": "round"},
      "encoding": {
        "x": {"field": "km", "type": "quantitative", "scale": {"domain": [0, 304], "nice": false},
          "axis": {"values": [0,25,50,75,100,125,150,175,200,225,250,275,300], "labelExpr": "datum.value % 50 === 0 ? datum.label : ''", "tickSize": {"condition": {"test": "datum.value % 50 === 0", "value": 8}, "value": 5}, "title": "Cumulative distance (km)", "titleFontSize": 18, "titlePadding": 14, "labelFontSize": 15.5, "labelPadding": 4, "labelFlush": false, "labelOverlap": false}},
        "y": {"field": "m", "type": "quantitative", "scale": {"domain": [-1.4, 1.0], "nice": false, "zero": false},
          "axis": {"values": [-1.4,-1.3,-1.2,-1.1,-1.0,-0.9,-0.8,-0.7,-0.6,-0.5,-0.4,-0.3,-0.2,-0.1,0,0.1,0.2,0.3,0.4,0.5,0.6,0.7,0.8,0.9,1.0], "labelExpr": "abs(round(datum.value*10)) % 2 === 0 ? replace(format(datum.value, '.1f'), '\u2212', '-') : ''", "tickSize": {"condition": {"test": "abs(round(datum.value*10)) % 2 === 0", "value": 8}, "value": 5}, "title": "Extreme water elevations (m)", "titleFontSize": 19, "titlePadding": 15, "labelFontSize": 14, "labelPadding": 3, "labelOverlap": false}},
        "color": {"field": "s", "type": "nominal", "scale": {"domain": ["A+","A-","B+","B-","C+","C-","D+","D-","E+","E-","F+","F-","G+","G-"], "range": ["#000000","#000000","#f6f22e","#f6f22e","#ee30ee","#ee30ee","#f08c30","#f08c30","#dc1e1e","#dc1e1e","#2ee02e","#2ee02e","#1818c8","#1818c8"]}, "legend": null}
      }
    },
    {
      "data": {"name": "places"},
      "transform": [{"filter": {"field": "place", "oneOf": ["Brindisi", "Otranto", "Taranto"]}}],
      "mark": {"type": "text", "angle": 270, "align": "left", "baseline": "bottom", "dx": 4, "dy": -2, "fontSize": 16, "font": "Liberation Sans", "color": "black"},
      "encoding": {
        "x": {"field": "km", "type": "quantitative", "scale": {"domain": [0, 304], "nice": false}},
        "y": {"datum": -1.4, "type": "quantitative", "scale": {"domain": [-1.4, 1.0], "nice": false, "zero": false}, "axis": null},
        "text": {"field": "place"}
      }
    },
    {
      "data": {"name": "places"},
      "transform": [{"filter": {"field": "place", "equal": "Leuca"}}],
      "mark": {"type": "text", "angle": 270, "align": "left", "baseline": "top", "dx": 4, "dy": 2, "fontSize": 16, "font": "Liberation Sans", "color": "black"},
      "encoding": {
        "x": {"field": "km", "type": "quantitative", "scale": {"domain": [0, 304], "nice": false}},
        "y": {"datum": -1.4, "type": "quantitative", "scale": {"domain": [-1.4, 1.0], "nice": false, "zero": false}, "axis": null},
        "text": {"field": "place"}
      }
    },
    {
      "data": {"name": "places"},
      "transform": [{"filter": {"field": "place", "oneOf": ["Torre S. Emiliano", "Torre Sasso"]}}],
      "mark": {"type": "text", "angle": 270, "align": "left", "baseline": "top", "dx": 2, "dy": 2, "fontSize": 15, "fontWeight": "bold", "font": "Liberation Sans"},
      "encoding": {
        "x": {"field": "km", "type": "quantitative", "scale": {"domain": [0, 304], "nice": false}},
        "y": {"datum": -1.4, "type": "quantitative", "scale": {"domain": [-1.4, 1.0], "nice": false, "zero": false}, "axis": null},
        "text": {"field": "place"},
        "color": {"field": "place", "type": "nominal", "scale": {"domain": ["Torre S. Emiliano", "Torre Sasso"], "range": ["#e0201e", "#2ee02e"]}, "legend": null}
      }
    },
    {
      "data": {"name": "coasts"},
      "mark": {"type": "text", "fontStyle": "italic", "fontSize": 19, "lineHeight": 23, "lineBreak": "\n", "align": "center", "baseline": "alphabetic", "dy": 40, "font": "Liberation Sans", "color": "black"},
      "encoding": {
        "x": {"field": "km", "type": "quantitative", "scale": {"domain": [0, 304], "nice": false}},
        "y": {"datum": -1.4, "type": "quantitative", "scale": {"domain": [-1.4, 1.0], "nice": false, "zero": false}, "axis": null},
        "text": {"field": "coast"}
      }
    }
  ],
  "resolve": {"axis": {"y": "independent"}, "scale": {"color": "independent", "size": "independent"}}
}
]
}
